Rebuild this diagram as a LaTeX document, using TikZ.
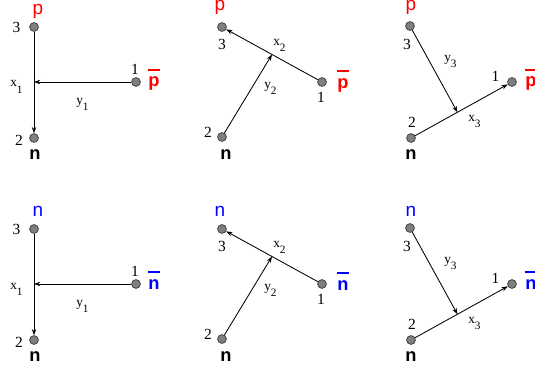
\documentclass[tikz,border=0pt]{standalone}
\usepackage{fontspec}
\setmainfont{Liberation Serif}
\newfontfamily\partfont{Liberation Sans}
\usetikzlibrary{arrows.meta,calc}

\tikzset{
  body/.style={circle, draw=black!80, fill=black!50, line width=0.5pt, inner sep=0pt, minimum size=0.22cm},
  jacobi/.style={-{Stealth[length=4.5pt,width=3.2pt]}, line width=0.6pt},
  num/.style={font=\fontsize{11}{11}\selectfont, inner sep=0pt, anchor=base},
  coord/.style={font=\fontsize{9.5}{9.5}\selectfont, inner sep=0pt, anchor=base west},
  part/.style={font=\partfont\fontsize{13.5}{13.5}\selectfont, inner sep=0pt, anchor=base},
  spectator/.style={font=\partfont\bfseries\fontsize{13}{13}\selectfont, inner sep=0pt, anchor=base},
}
% Jacobi coordinate with a low subscript
\newcommand{\jac}[2]{#1\raisebox{-4.5pt}{\fontsize{8}{8}\selectfont #2}}
% antiparticle: bold letter with a bar
\newcommand{\antipart}[1]{\setbox0\hbox{#1}\rlap{\raisebox{0.88em}{\rule{\wd0}{0.11em}}}\box0}

\begin{document}
\begin{tikzpicture}[x=0.025cm, y=-0.025cm]
  \useasboundingbox (0,0) rectangle (535,375);

  \foreach \row/\had/\col/\topa/\topb in {0/p/red/14/10, 202/n/blue/14/14} {
  \begin{scope}[shift={(0,\row)}]

    % Set 1 - bar particle against the pair (2,3)
    \node[body] (a3) at (34,27) {};
    \node[body] (a1) at (136,82) {};
    \node[body] (a2) at (34,138) {};
    \coordinate (af) at ($(a3)!(a1)!(a2)$);
    \draw[jacobi] (a3) -- (a2);
    \draw[jacobi] (a1) -- (af);
    \node[part, text=\col] (at) at (38,\topa) {\had};
    \node[num] (a3l) at (16.5,32) {3};
    \node[num] (a1l) at (135,74) {1};
    \node[spectator, text=\col] (ab) at (154,87) {\antipart{\had}};
    \node[coord] (ax) at (10,87) {\jac{x}{1}};
    \node[coord] (ay) at (76,104) {\jac{y}{1}};
    \node[num] (a2l) at (19,145) {2};
    \node[spectator] (an) at (35,159) {n};

    % Set 2 - neutron against the pair (1,3)
    \node[body] (b3) at (222,27) {};
    \node[body] (b1) at (322,82) {};
    \node[body] (b2) at (222,137) {};
    \coordinate (bm) at ($(b1)!0.5!(b3)$);
    \draw[jacobi] (b1) -- (b3);
    \draw[jacobi] (b2) -- (bm);
    \node[part, text=\col] (bt) at (220,\topb) {\had};
    \node[num] (b3l) at (222,49) {3};
    \node[coord] (bx) at (273,45) {\jac{x}{2}};
    \node[coord] (by) at (264,88) {\jac{y}{2}};
    \node[num] (b1l) at (321,102) {1};
    \node[spectator, text=\col] (bb) at (343,88) {\antipart{\had}};
    \node[num] (b2l) at (208,137) {2};
    \node[spectator] (bn) at (226,159) {n};

    % Set 3 - particle 3 against the pair (1,2)
    \node[body] (c3) at (410,26) {};
    \node[body] (c1) at (512,82) {};
    \node[body] (c2) at (411,138) {};
    \coordinate (cm) at ($(c2)!0.46!(c1)$);
    \draw[jacobi] (c2) -- (c1);
    \draw[jacobi] (c3) -- (cm);
    \node[part, text=\col] (ct) at (411,\topb) {\had};
    \node[num] (c3l) at (407,49) {3};
    \node[coord] (cy) at (444,61) {\jac{y}{3}};
    \node[num] (c1l) at (495.5,81) {1};
    \node[spectator, text=\col] (cb) at (531,87) {\antipart{\had}};
    \node[coord] (cx) at (468,121) {\jac{x}{3}};
    \node[num] (c2l) at (412,127) {2};
    \node[spectator] (cn) at (411,159) {n};

  \end{scope}
  }

\end{tikzpicture}
\end{document}
